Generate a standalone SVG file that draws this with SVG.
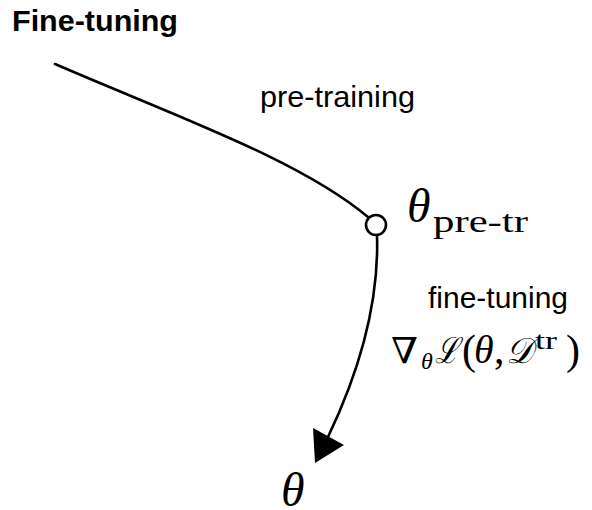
<svg xmlns="http://www.w3.org/2000/svg" width="592" height="510" viewBox="0 0 592 510">
<style>
.sans{font-family:"Liberation Sans",Arial,sans-serif;fill:#000}
.serif{font-family:"Liberation Serif","DejaVu Serif",serif;fill:#000}
.it{font-style:italic}
.edge{fill:none;stroke:#000;stroke-width:2.6;stroke-linecap:round}
</style>
<rect width="592" height="510" fill="#fff"/>
<g id="title"><text class="sans" x="12" y="31" font-size="30" font-weight="bold" textLength="166" lengthAdjust="spacingAndGlyphs">Fine-tuning</text></g>
<g id="connectors">
<path class="edge" d="M55,64 C180,118 300,160 368,217"/>
<path class="edge" d="M377,236 C379,300 360,370 328,437"/>
<polygon points="315,463 313,428 344,445" fill="#000"/>
</g>
<g id="label-pretraining"><text class="sans" x="260" y="107" font-size="30" textLength="155" lengthAdjust="spacingAndGlyphs">pre-training</text></g>
<g id="node-pretr">
<circle cx="376" cy="225" r="10" fill="#fff" stroke="#000" stroke-width="2.6"/>
<text class="serif it" x="407" y="222" font-size="48">θ</text>
<text class="serif" x="433" y="232" font-size="32" textLength="95" lengthAdjust="spacingAndGlyphs">pre-tr</text>
</g>
<g id="label-finetuning"><text class="sans" x="428" y="308" font-size="30" textLength="140" lengthAdjust="spacingAndGlyphs">fine-tuning</text></g>
<g id="label-gradient">
<text class="serif" x="391" y="363" font-size="36" textLength="27" lengthAdjust="spacingAndGlyphs">∇</text>
<text class="serif it" x="421" y="369" font-size="24">θ</text>
<text class="serif it" x="435" y="363" font-size="36" textLength="24" lengthAdjust="spacingAndGlyphs">ℒ</text>
<text class="serif" x="462" y="364" font-size="42">(</text>
<text class="serif it" x="474" y="363" font-size="40">θ</text>
<text class="serif" x="494" y="363" font-size="42">,</text>
<text class="serif it" x="506" y="363" font-size="36" textLength="27" lengthAdjust="spacingAndGlyphs">𝒟</text>
<text class="serif" x="535" y="349" font-size="26" textLength="22" lengthAdjust="spacingAndGlyphs">tr</text>
<text class="serif" x="566" y="364" font-size="42">)</text>
</g>
<g id="node-theta"><text class="serif it" x="281" y="506" font-size="48">θ</text></g>
</svg>
